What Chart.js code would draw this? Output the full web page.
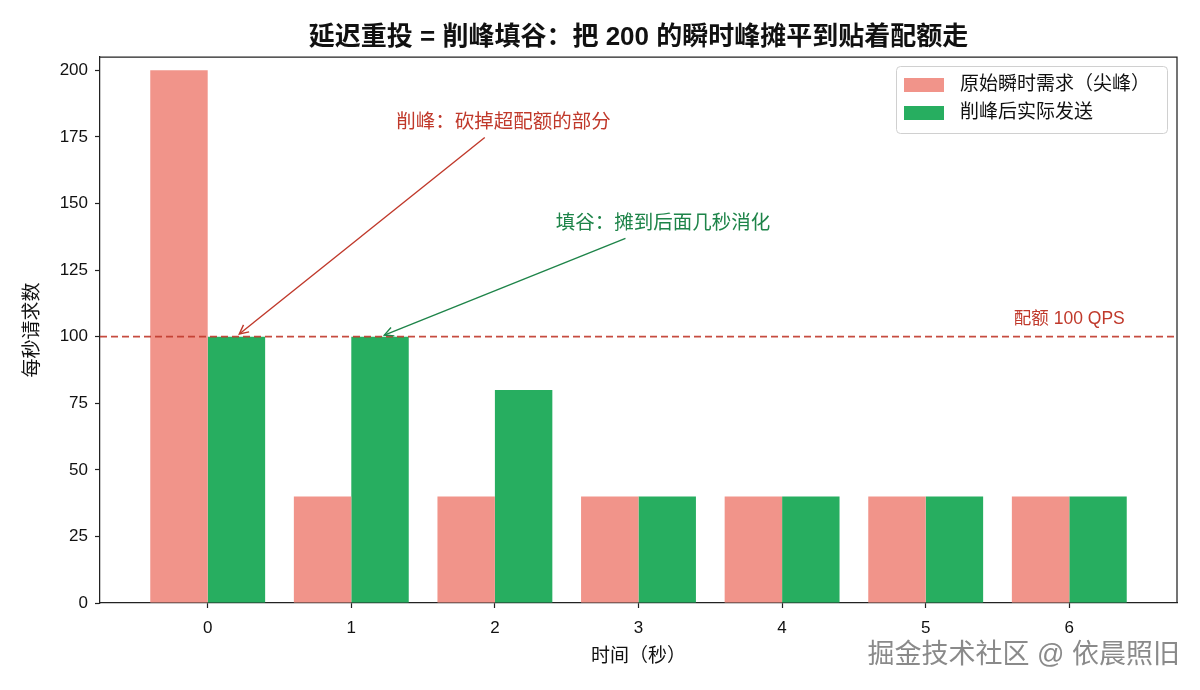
<!DOCTYPE html>
<html>
<head>
<meta charset="utf-8">
<script src="https://cdn.jsdelivr.net/npm/chart.js@4.4.1/dist/chart.umd.min.js"></script>
<style>
  html, body { margin: 0; padding: 0; background: #fff; }
  #wrap { width: 1200px; height: 690px; }
</style>
</head>
<body>
<div id="wrap"><canvas id="myChart" width="1200" height="690"></canvas></div>
<script>
// data
const seconds = [0, 1, 2, 3, 4, 5, 6];
const rawDemand = [200, 40, 40, 40, 40, 40, 40];
const shapedSend = [100, 100, 80, 40, 40, 40, 40];
const quotaQps = 100;
const yTicks = [0, 25, 50, 75, 100, 125, 150, 175, 200];
const xRange = [-0.75, 6.75];

const FONT = '"Liberation Sans", "Noto Sans CJK SC", sans-serif';
const RED = '#c0392b';
const GREEN_TXT = '#1e8449';

const notes = [
    { text: '削峰：砍掉超配额的部分', tx: 2.06, ty: 180.4, x: 0.22, y: 101, color: RED },
    { text: '填谷：摊到后面几秒消化', tx: 3.17, ty: 142.5, x: 1.23, y: 100.6, color: GREEN_TXT }
];

function arrow(ctx, x1, y1, x2, y2, color) {
    const a = Math.atan2(y2 - y1, x2 - x1);
    ctx.save();
    ctx.strokeStyle = color;
    ctx.lineWidth = 1.4;
    ctx.beginPath();
    ctx.moveTo(x1, y1);
    ctx.lineTo(x2, y2);
    ctx.stroke();
    const hl = 9, hw = 4.5;
    ctx.beginPath();
    ctx.moveTo(x2 - hl * Math.cos(a) + hw * Math.sin(a), y2 - hl * Math.sin(a) - hw * Math.cos(a));
    ctx.lineTo(x2, y2);
    ctx.lineTo(x2 - hl * Math.cos(a) - hw * Math.sin(a), y2 - hl * Math.sin(a) + hw * Math.cos(a));
    ctx.stroke();
    ctx.restore();
}

const decor = {
    id: 'decor',
    afterDraw(chart) {
        const ctx = chart.ctx;
        const area = chart.chartArea;
        const xs = chart.scales.x, ys = chart.scales.y;
        ctx.save();

        // top and right spines
        ctx.strokeStyle = '#222';
        ctx.lineWidth = 1.25;
        ctx.beginPath();
        ctx.moveTo(area.left, area.top);
        ctx.lineTo(area.right, area.top);
        ctx.lineTo(area.right, area.bottom);
        ctx.stroke();

        // title
        ctx.fillStyle = '#111';
        ctx.font = 'bold 26px ' + FONT;
        ctx.textAlign = 'center';
        ctx.textBaseline = 'middle';
        ctx.fillText('延迟重投 = 削峰填谷：把 200 的瞬时峰摊平到贴着配额走', (area.left + area.right) / 2, 38);

        // axis titles
        ctx.font = '19px ' + FONT;
        ctx.fillText('时间（秒）', (area.left + area.right) / 2, 657);
        ctx.save();
        ctx.translate(33, (area.top + area.bottom) / 2);
        ctx.rotate(-Math.PI / 2);
        ctx.fillText('每秒请求数', 0, 0);
        ctx.restore();

        // annotations
        ctx.font = '19.5px ' + FONT;
        for (const n of notes) {
            const cx = xs.getPixelForValue(n.tx), cy = ys.getPixelForValue(n.ty);
            const px = xs.getPixelForValue(n.x), py = ys.getPixelForValue(n.y);
            ctx.fillStyle = n.color;
            ctx.fillText(n.text, cx, cy);
            const hw = ctx.measureText(n.text).width / 2 + 6, hh = 15;
            const dx = px - cx, dy = py - cy;
            const t = Math.min(Math.abs(hw / dx), Math.abs(hh / dy));
            arrow(ctx, cx + dx * t, cy + dy * t, px, py, n.color);
        }

        // quota label
        ctx.fillStyle = RED;
        ctx.font = '17.5px ' + FONT;
        ctx.fillText('配额 ' + quotaQps + ' QPS', xs.getPixelForValue(6), ys.getPixelForValue(106.4));

        // legend
        const lx = 896, ly = 66, lw = 271, lh = 67;
        ctx.fillStyle = 'rgba(255,255,255,0.85)';
        ctx.strokeStyle = '#d0d0d0';
        ctx.lineWidth = 1;
        ctx.beginPath();
        ctx.roundRect(lx + 0.5, ly + 0.5, lw, lh, 4);
        ctx.fill();
        ctx.stroke();
        ctx.font = '19px ' + FONT;
        ctx.textAlign = 'left';
        chart.data.datasets.filter(d => d.type !== 'line').forEach((d, i) => {
            const rowY = 85 + i * 28;
            ctx.fillStyle = d.backgroundColor;
            ctx.fillRect(904, rowY - 7, 40, 14);
            ctx.fillStyle = '#111';
            ctx.fillText(d.label, 960, rowY);
        });

        // watermark
        ctx.font = '27px ' + FONT;
        ctx.textAlign = 'right';
        ctx.fillStyle = '#ffffff';
        ctx.fillText('掘金技术社区 @ 依晨照旧', 1181, 658);
        ctx.fillStyle = '#8a8a8a';
        ctx.fillText('掘金技术社区 @ 依晨照旧', 1180, 656);

        ctx.restore();
    }
};

const ctx = document.getElementById('myChart');
// eslint-disable-next-line no-unused-vars
const myChart = new Chart(ctx, {
    type: 'bar',
    data: {
        datasets: [{
            type: 'line',
            label: 'quota',
            data: [{ x: xRange[0], y: quotaQps }, { x: xRange[1], y: quotaQps }],
            borderColor: 'rgba(192,57,43,0.9)',
            borderWidth: 1.7,
            borderDash: [7, 4],
            pointRadius: 0,
            order: 0
        }, {
            label: '原始瞬时需求（尖峰）',
            data: seconds.map((s, i) => ({ x: s, y: rawDemand[i] })),
            backgroundColor: '#f1948a',
            categoryPercentage: 0.8,
            barPercentage: 1.0,
            order: 1
        }, {
            label: '削峰后实际发送',
            data: seconds.map((s, i) => ({ x: s, y: shapedSend[i] })),
            backgroundColor: '#27ae60',
            categoryPercentage: 0.8,
            barPercentage: 1.0,
            order: 1
        }]
    },
    options: {
        responsive: false,
        animation: false,
        layout: { padding: { left: 0, right: 23, top: 57, bottom: 0 } },
        plugins: {
            legend: { display: false },
            title: { display: false },
            tooltip: { enabled: false }
        },
        scales: {
            x: {
                type: 'linear',
                min: xRange[0],
                max: xRange[1],
                offset: false,
                grid: { offset: false, drawOnChartArea: false, tickLength: 5, tickColor: '#222', tickWidth: 1.2 },
                border: { color: '#222', width: 1.25 },
                ticks: { color: '#111', font: { size: 17, family: FONT }, padding: 10, callback: v => String(v) },
                afterBuildTicks: s => { s.ticks = seconds.map(v => ({ value: v })); },
                afterFit: s => { s.height = 87; }
            },
            y: {
                min: 0,
                max: 205,
                grid: { drawOnChartArea: false, tickLength: 5, tickColor: '#222', tickWidth: 1.2 },
                border: { color: '#222', width: 1.25 },
                ticks: { color: '#111', font: { size: 17, family: FONT }, padding: 7, callback: v => String(v) },
                afterBuildTicks: s => { s.ticks = yTicks.map(v => ({ value: v })); },
                afterFit: s => { s.width = 100; }
            }
        }
    },
    plugins: [decor]
});
</script>
</body>
</html>
